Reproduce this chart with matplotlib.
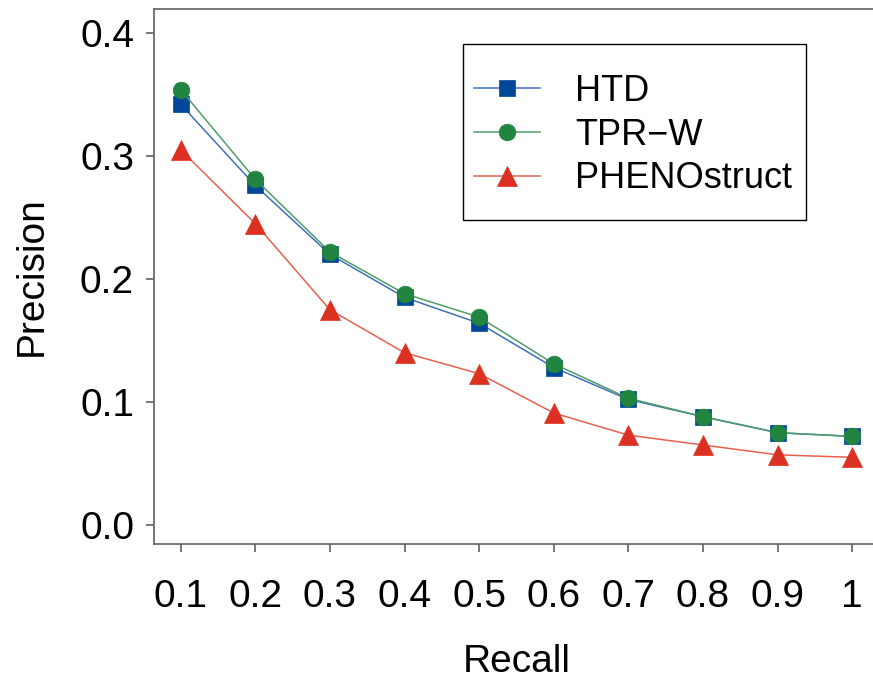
"""
Precision-recall curves for HTD, TPR-W and PHENOstruct.
"""

import matplotlib.pyplot as plt
from matplotlib.patches import Rectangle

plt.rcParams["font.family"] = ["Liberation Sans", "DejaVu Sans"]

# ==========================================================
# Data
# ==========================================================

recall = [0.1, 0.2, 0.3, 0.4, 0.5, 0.6, 0.7, 0.8, 0.9, 1.0]
recall_labels = ["0.1", "0.2", "0.3", "0.4", "0.5", "0.6", "0.7", "0.8", "0.9", "1"]

htd = [0.342, 0.276, 0.220, 0.185, 0.164, 0.128, 0.102, 0.088, 0.075, 0.072]
tpr_w = [0.354, 0.281, 0.222, 0.188, 0.169, 0.131, 0.103, 0.088, 0.075, 0.072]
phenostruct = [0.305, 0.245, 0.175, 0.140, 0.123, 0.091, 0.073, 0.065, 0.057, 0.055]

precision_ticks = [0.0, 0.1, 0.2, 0.3, 0.4]

# ==========================================================
# Plot
# ==========================================================

W, H = 873, 683
fig = plt.figure(figsize=(W / 100, H / 100), dpi=100)

# axes box in pixels: left, top, right, bottom
left, top, right, bottom = 153.5, 9, 879.5, 544
ax = fig.add_axes([left / W, (H - bottom) / H, (right - left) / W, (bottom - top) / H])


def to_axes(px, py):
    """Pixel position in the figure -> axes fraction."""
    return (px - left) / (right - left), (bottom - py) / (bottom - top)


series = [
    ("HTD", htd, "s", 12, "#00479a", "#3d72b8"),
    ("TPR\u2212W", tpr_w, "o", 12, "#21853f", "#4f9e67"),
    ("PHENOstruct", phenostruct, "^", 15, "#dc3122", "#e8604f"),
]

for label, values, marker, size, face, line in series:
    ax.plot(
        recall,
        values,
        color=line,
        linewidth=1.1,
        marker=marker,
        markersize=size,
        markerfacecolor=face,
        markeredgecolor=face,
        markeredgewidth=0.5,
        label=label,
    )

ax.set_xlim(0.0636, 1.0365)
ax.set_ylim(-0.0155, 0.4195)

ax.set_xticks(recall)
ax.set_xticklabels(recall_labels)
ax.set_yticks(precision_ticks)
ax.set_yticklabels([f"{v:.1f}" for v in precision_ticks])

for spine in ax.spines.values():
    spine.set_color("#606060")
    spine.set_linewidth(1.2)

ax.tick_params(
    axis="both",
    direction="out",
    length=6,
    width=1.2,
    color="#606060",
    labelsize=28,
)
ax.tick_params(axis="x", pad=19)
ax.tick_params(axis="y", pad=8)

ax.set_xlabel("Recall", fontsize=28, labelpad=21)
ax.set_ylabel("Precision", fontsize=28, labelpad=22)

# Legend box drawn separately so the padding can differ per side
bx0, by0 = to_axes(463, 220)
bx1, by1 = to_axes(806, 44)
ax.add_patch(
    Rectangle(
        (bx0, by0),
        bx1 - bx0,
        by1 - by0,
        transform=ax.transAxes,
        facecolor="white",
        edgecolor="black",
        linewidth=1.0,
        zorder=5,
    )
)

legend = ax.legend(
    loc="upper left",
    bbox_to_anchor=to_axes(474, 74),
    fontsize=26,
    frameon=False,
    borderpad=0,
    handlelength=1.83,
    handletextpad=0.97,
    labelspacing=0.24,
    borderaxespad=0,
)
legend.set_zorder(6)

fig.savefig("out.png", dpi=100)
plt.close(fig)
